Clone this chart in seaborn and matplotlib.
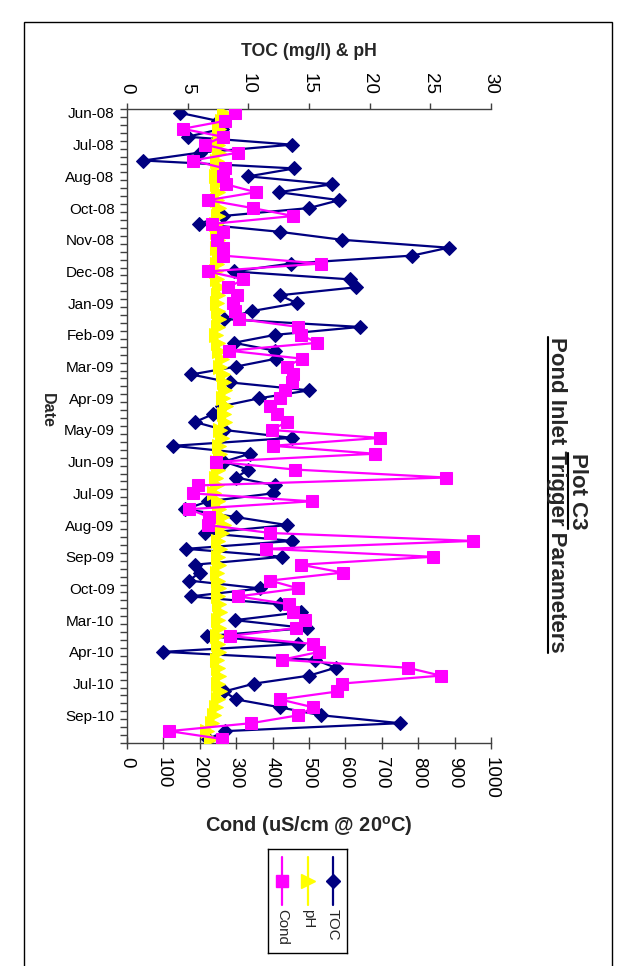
import numpy as np
import pandas as pd
import matplotlib
matplotlib.use("Agg")
import matplotlib.pyplot as plt
import seaborn as sns
from matplotlib.lines import Line2D
from matplotlib.patches import Rectangle

# Month labels shown on the sample axis (one label every fourth sample)
date_labels = ["Jun-08", "Jul-08", "Aug-08", "Oct-08", "Nov-08", "Dec-08",
               "Jan-09", "Feb-09", "Mar-09", "Apr-09", "May-09", "Jun-09",
               "Jul-09", "Aug-09", "Sep-09", "Oct-09", "Mar-10", "Apr-10",
               "Jul-10", "Sep-10"]
label_step = 4

# Total organic carbon (mg/l)
toc = [4.4, 7.5, 7.8, 5.0, 13.6, 6.0, 1.35, 13.8, 10.0, 16.9,
       12.5, 17.5, 15.0, 7.9, 5.9, 12.6, 17.7, 26.5, 23.5, 13.5,
       8.8, 18.4, 18.85, 12.6, 14.0, 10.3, 8.0, 19.2, 12.2, 8.8,
       12.2, 12.3, 9.0, 5.3, 8.5, 15.0, 10.9, 7.8, 7.1, 5.6,
       8.0, 13.6, 3.8, 10.1, 8.0, 10.0, 9.0, 12.2, 12.0, 6.7,
       4.8, 9.0, 13.2, 6.4, 13.6, 4.9, 12.8, 5.6, 6.0, 5.1,
       11.0, 5.25, 12.6, 14.3, 8.9, 14.8, 6.6, 14.1, 3.0, 15.5,
       17.2, 15.0, 10.5, 8.0, 9.0, 12.6, 16.0, 22.5, 8.1, 6.7]

# pH
ph = [8.0, 7.8, 7.6, 7.7, 7.5, 7.6, 7.4, 7.5, 7.3, 7.4,
      7.5, 7.4, 7.6, 7.5, 7.3, 7.4, 7.5, 7.4, 7.6, 7.4,
      7.3, 7.4, 7.6, 7.5, 7.4, 7.5, 7.6, 7.5, 7.3, 7.5,
      7.6, 7.8, 7.7, 7.9, 8.0, 8.1, 7.9, 8.2, 8.0, 8.1,
      7.7, 7.8, 7.6, 7.7, 7.4, 7.5, 7.3, 7.4, 7.2, 7.5,
      7.6, 7.8, 8.0, 7.8, 7.5, 7.7, 7.5, 7.6, 7.4, 7.5,
      7.6, 7.5, 7.6, 7.7, 7.5, 7.6, 7.4, 7.5, 7.6, 7.4,
      7.5, 7.6, 7.5, 7.7, 7.5, 7.3, 7.2, 7.0, 6.6, 6.9]

# Conductivity (uS/cm @ 20 C)
cond = [297, 269, 153, 263, 214, 306, 180, 269, 265, 272,
        354, 223, 345, 457, 233, 263, 246, 263, 263, 533,
        223, 320, 278, 301, 292, 297, 308, 471, 477, 523,
        281, 480, 439, 457, 452, 434, 420, 393, 411, 439,
        397, 695, 400, 681, 245, 462, 876, 194, 180, 507,
        171, 226, 223, 393, 951, 382, 840, 477, 593, 393,
        471, 306, 446, 455, 489, 464, 283, 510, 528, 425,
        771, 862, 590, 578, 420, 512, 471, 341, 116, 262]

sns.set_theme(style="white")
plt.rcParams["font.family"] = ["Liberation Sans", "DejaVu Sans"]
plt.rcParams["mathtext.fontset"] = "custom"
plt.rcParams["mathtext.rm"] = "Liberation Sans"
plt.rcParams["mathtext.bf"] = "Liberation Sans:bold"

n = len(toc)
df = pd.DataFrame({"sample": np.arange(n), "TOC": toc, "pH": ph, "Cond": cond})

NAVY = "#000080"
YELLOW = "#FFFF00"
MAGENTA = "#FF00FF"
AXC = "#404040"

W, H = 629, 966
fig = plt.figure(figsize=(W / 100, H / 100), dpi=100)
ax = fig.add_axes([127 / W, 1 - 743 / H, 364 / W, 634 / H])
ax2 = ax.twiny()

# TOC and pH share the top axis; conductivity uses the bottom axis
sns.lineplot(data=df, x="TOC", y="sample", orient="y", sort=False,
             estimator=None, ax=ax, color=NAVY, linewidth=1.6,
             marker="D", markersize=6.8, mec=NAVY, mfc=NAVY, zorder=2,
             legend=False)
sns.lineplot(data=df, x="pH", y="sample", orient="y", sort=False,
             estimator=None, ax=ax, color=YELLOW, linewidth=2.0,
             marker=">", markersize=10, mec=YELLOW, mfc=YELLOW, zorder=3,
             legend=False)
sns.lineplot(data=df, x="Cond", y="sample", orient="y", sort=False,
             estimator=None, ax=ax2, color=MAGENTA, linewidth=1.6,
             marker="s", markersize=9, mec=MAGENTA, mfc=MAGENTA, zorder=4,
             legend=False)

ax.set_xlim(0, 30)
ax2.set_xlim(0, 1000)
ax.set_ylim(n - 0.5, -0.5)

# Top axis: TOC & pH
ax.xaxis.tick_top()
ax.xaxis.set_label_position("top")
ax.set_xticks(np.arange(0, 31, 5))
ax.tick_params(axis="x", which="major", direction="out", length=4, width=1,
               color=AXC, pad=7, labelsize=13.5, labelrotation=-90,
               labelcolor="black", top=True, bottom=False)
ax.set_xlabel("TOC (mg/l) & pH", fontsize=12.7, fontweight="bold")
ax.xaxis.set_label_coords(0.5, 1.09)
ax.xaxis.label.set_va("center")

# Bottom axis: conductivity
ax2.xaxis.tick_bottom()
ax2.xaxis.set_label_position("bottom")
ax2.set_xticks(np.arange(0, 1001, 100))
ax2.tick_params(axis="x", which="major", direction="inout", length=8, width=1,
                color=AXC, pad=6, labelsize=13.5, labelrotation=-90,
                labelcolor="black", top=False, bottom=True)
ax2.set_xlabel("Cond (uS/cm @ 20$^{\\mathbf{o}}$C)", fontsize=14.4,
               fontweight="bold")
ax2.xaxis.set_label_coords(0.5, -0.131)
ax2.xaxis.label.set_va("center")

# Sample axis: boundaries ticked, month labels every fourth sample
ax.set_yticks(np.arange(0, n, label_step))
ax.set_yticklabels(date_labels)
ax.set_yticks(np.arange(-0.5, n, 1), minor=True)
ax.tick_params(axis="y", which="major", length=0, pad=9, labelsize=11,
               labelcolor="black")
ax.tick_params(axis="y", which="minor", direction="out", length=5, width=1,
               color=AXC, left=True)
ax.set_ylabel("Date", fontsize=11.5, fontweight="bold", rotation=-90)
ax.yaxis.set_label_coords(-0.22, 0.524)
ax.yaxis.label.set_va("center")

for side in ["top", "left", "bottom"]:
    ax.spines[side].set_color(AXC)
    ax.spines[side].set_linewidth(1)
ax.spines["right"].set_visible(False)
for s in ax2.spines.values():
    s.set_visible(False)
ax.grid(False)
ax2.grid(False)

# Chart title, rotated and underlined
t1 = fig.text(577 / W, 1 - 491 / H, "Plot C3", rotation=-90, fontsize=16,
              fontweight="bold", ha="center", va="center")
t2 = fig.text(557 / W, 1 - 495 / H, "Pond Inlet Trigger Parameters",
              rotation=-90, fontsize=16, fontweight="bold", ha="center",
              va="center")
fig.canvas.draw()
renderer = fig.canvas.get_renderer()
for t in (t1, t2):
    bb = t.get_window_extent(renderer)
    x = (bb.x0 + 1.8) / W
    fig.add_artist(Line2D([x, x], [bb.y0 / H, bb.y1 / H],
                          transform=fig.transFigure, color="black", lw=1.5))

# Legend box with rotated entries
lax = fig.add_axes([268 / W, 1 - 953 / H, 79 / W, 104 / H])
lax.set_xlim(0, 1)
lax.set_ylim(0, 1)
lax.set_xticks([])
lax.set_yticks([])
for s in lax.spines.values():
    s.set_color("black")
    s.set_linewidth(1)
entries = [("Cond", MAGENTA, "s", 9, 0.177),
           ("pH", YELLOW, ">", 10, 0.506),
           ("TOC", NAVY, "D", 6.8, 0.823)]
for name, col, mk, ms, xpos in entries:
    lax.add_line(Line2D([xpos, xpos], [0.465, 0.925], color=col, lw=1.6))
    lax.add_line(Line2D([xpos], [0.695], color=col, marker=mk, markersize=ms,
                        mec=col, mfc=col, lw=0))
    lax.text(xpos, 0.42, name, rotation=-90, fontsize=10.8, ha="center",
             va="top")

# Chart area border
fig.add_artist(Rectangle((24 / W, -0.05), (612 - 24) / W, 1 - 22 / H + 0.05,
                         transform=fig.transFigure, fill=False,
                         ec="black", lw=1))

fig.savefig("out.png", dpi=100)
